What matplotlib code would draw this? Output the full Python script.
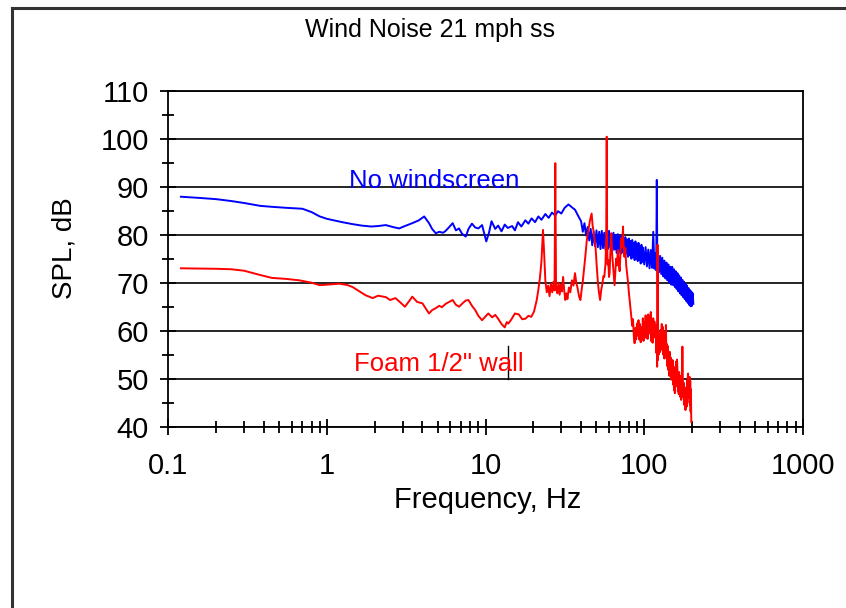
import matplotlib
matplotlib.use("Agg")
import matplotlib.pyplot as plt
from matplotlib.lines import Line2D
from matplotlib.ticker import LogLocator, MultipleLocator, FixedFormatter, FixedLocator

plt.rcParams['font.family'] = ['Liberation Sans', 'DejaVu Sans']

# spectrum without windscreen (Hz, dB)
bare_freq = [
    0.12, 0.15, 0.2, 0.25, 0.3, 0.38, 0.45, 0.55, 0.7, 0.8, 0.9, 1.0, 1.1, 1.25,
    1.45, 1.65, 1.9, 2.1, 2.35, 2.6, 2.85, 3.1, 3.45, 3.8, 4.1, 4.4, 4.6, 4.85,
    5.1, 5.4, 5.6, 5.9, 6.2, 6.5, 6.8, 7.1, 7.5, 7.8, 8.2, 8.6, 9.0, 9.5, 10.1,
    10.5, 10.9, 11.5, 12.0, 12.6, 13.2, 13.8, 14.7, 15.3, 16.0, 16.8, 17.8, 18.6,
    19.5, 20.5, 21.5, 22.5, 23.8, 25.0, 26.2, 27.5, 28.6, 30.0, 31.5, 33.3, 35.0,
    36.6, 38.5,
    40, 41, 42, 43, 44, 45, 46, 47, 48, 49, 50, 51, 52, 53, 54, 55, 56, 57, 58,
    59, 60, 61, 62, 63, 64, 65, 66, 67, 68, 69, 70, 71, 72, 73, 74, 75, 76, 77,
    78, 79, 80, 81, 82, 83, 84, 85, 86, 87, 88, 89, 90, 91, 92, 93, 94, 95, 96,
    97, 98, 100, 102, 104, 106, 108, 110, 112, 114, 116, 118, 119, 120, 121, 122,
    124, 126, 128, 130, 132, 134, 136, 138, 140, 142, 144, 146, 148, 150, 152,
    154, 156, 158, 160, 162, 164, 166, 168, 170, 172, 174, 176, 178, 180, 182,
    184, 186, 188, 190, 192, 194, 196, 198, 200, 202, 204,
]
bare_spl = [
    87.9, 87.7, 87.4, 87.0, 86.6, 86.0, 85.8, 85.6, 85.4, 84.7, 83.8, 83.3, 83.0,
    82.6, 82.2, 81.9, 81.7, 81.8, 82.0, 81.6, 81.3, 81.8, 82.4, 83.0, 83.8, 82.4,
    81.2, 80.3, 80.6, 80.4, 80.8, 81.6, 82.4, 80.9, 81.3, 80.2, 79.6, 81.2, 82.3,
    81.5, 81.3, 82.0, 78.6, 80.4, 82.8, 81.2, 81.9, 80.7, 82.1, 81.4, 81.8, 80.9,
    82.6, 81.7, 83.0, 82.3, 83.4, 82.6, 83.8, 83.1, 84.3, 83.5, 84.6, 84.0, 84.9,
    84.4, 85.6, 86.3, 85.7, 85.2, 83.8,
    82.8, 80.6, 82.4, 79.8, 81.6, 78.8, 81.2, 77.8, 80.6, 77.6, 80.9, 77.4, 80.6,
    77.0, 80.8, 77.2, 80.4, 76.9, 80.7, 77.0, 80.8, 77.3, 80.2, 76.6, 80.4, 76.9,
    79.9, 76.2, 80.1, 76.6, 79.6, 76.0, 79.9, 76.3, 79.2, 75.7, 79.5, 76.0, 79.0,
    75.4, 79.2, 75.7, 78.7, 75.0, 78.9, 75.3, 78.3, 74.7, 78.6, 75.0, 78.1, 74.5,
    78.3, 74.7, 77.6, 74.0, 77.9, 74.3, 77.3, 73.8, 77.4, 73.4, 76.9, 73.0, 76.8,
    73.1, 80.6, 72.9, 76.2, 72.6, 91.4, 72.7, 76.0, 72.2, 75.6, 71.8, 75.2, 71.3,
    74.6, 70.9, 74.2, 70.5, 73.8, 70.0, 73.3, 69.6, 73.3, 69.5, 72.8, 69.1, 72.4,
    68.7, 72.0, 68.2, 71.5, 67.8, 71.1, 67.4, 70.6, 67.0, 70.2, 66.6, 69.8, 66.2,
    69.4, 65.8, 68.9, 65.4, 68.5, 65.1, 68.2, 65.2, 67.8, 65.6,
]

# spectrum with 1/2" foam wall (Hz, dB)
foam_freq = [
    0.12, 0.2, 0.25, 0.3, 0.38, 0.45, 0.55, 0.67, 0.8, 0.9, 1.0, 1.2, 1.35, 1.45,
    1.6, 1.75, 1.94, 2.1, 2.35, 2.5, 2.7, 2.9, 3.1, 3.3, 3.45, 3.7, 4.0, 4.2, 4.4,
    4.6, 4.85, 5.1, 5.3, 5.6, 5.9, 6.2, 6.5, 6.8, 7.2, 7.5, 7.8, 8.2, 8.6, 9.0,
    9.5, 10.0, 10.4, 11.0, 11.5, 12.0, 12.6, 13.2, 13.6, 13.9, 14.5, 15.3, 16.2,
    17.0, 17.8, 18.6, 19.4, 20.2, 21.0, 21.5, 22.0, 22.5, 23.0, 23.4, 23.8, 24.3,
    24.8, 25.3, 25.8, 26.3, 26.8, 27.2, 27.5, 27.8, 28.3, 28.8, 29.3, 29.8, 30.3,
    30.8, 31.3, 31.8, 32.3, 32.8, 33.5, 34.2, 35.0, 35.8, 36.6, 37.3, 38.0, 38.8,
    39.6, 40.3, 41.0, 41.8, 42.5, 43.5, 44.5, 45.5, 46.6, 47.3, 48.0, 48.6, 49.3,
    50.2, 51.0, 51.8, 52.7, 53.6, 54.5, 55.3, 56.0, 56.6, 57.0, 57.6, 58.0, 58.4,
    58.8, 59.3, 60.0, 60.5, 61.2, 62.0, 62.7, 63.5, 64.2, 65.0, 65.8, 66.5, 67.3,
    68.2, 69.0, 70.0, 70.8, 71.5, 72.5, 73.5,
    74, 75, 76, 77, 78, 79, 80, 81, 82, 83, 84, 85, 86, 87, 88, 89, 90, 91, 92,
    93, 94, 95, 96, 97, 98, 99, 100, 101, 102, 103, 104, 105, 106, 107, 108, 109,
    110, 111, 112, 113, 114, 115, 116, 117, 118, 119, 120, 120.6, 121.3, 122,
    123, 124, 125, 126, 127, 128, 129, 130, 131, 132, 133, 134, 135, 136, 137,
    138, 139, 140, 141, 142, 143, 144, 145, 146, 147, 148, 149, 150, 151, 152,
    153, 154, 155, 156, 157, 158, 159, 160, 161, 162, 163, 164, 165, 166, 167,
    168, 169, 170, 171, 172, 173, 174, 175, 176, 177, 178, 179, 180, 181, 182,
    183, 184, 185, 186, 187, 188, 189, 190, 191, 192, 193, 194, 195, 196, 197,
    198,
]
foam_spl = [
    73.0, 72.9, 72.8, 72.5, 71.6, 71.0, 70.8, 70.5, 70.0, 69.5, 69.6, 69.8, 69.5,
    69.1, 68.2, 67.4, 66.8, 67.3, 67.0, 66.4, 66.8, 65.9, 65.0, 66.2, 67.1, 66.0,
    65.7, 64.6, 63.6, 64.3, 64.7, 65.2, 64.9, 65.6, 66.0, 66.4, 65.4, 65.0, 65.8,
    66.3, 66.4, 65.2, 64.3, 63.1, 62.2, 63.0, 63.6, 62.8, 63.3, 62.5, 61.4, 60.7,
    61.8, 61.5, 62.3, 63.6, 63.4, 62.4, 62.5, 63.1, 62.9, 64.0, 66.4, 68.5, 71.0,
    74.5, 81.0, 76.0, 70.5, 68.0, 69.4, 67.2, 69.8, 68.0, 70.2, 68.4, 94.9, 69.0,
    67.8, 70.0, 67.5, 69.6, 68.2, 71.2, 68.4, 66.4, 67.8, 66.6, 69.0, 68.0, 70.5,
    69.4, 72.0, 70.0, 68.9, 67.2, 66.4, 68.5, 70.3, 73.0, 75.4, 79.0, 81.0, 83.0,
    84.4, 81.8, 80.6, 78.8, 77.5, 73.4, 70.2, 68.0, 66.4, 68.6, 69.8, 71.4, 71.2,
    72.8, 74.0, 80.0, 100.4, 78.0, 73.8, 74.7, 71.2, 72.0, 76.6, 80.3, 76.2, 73.8,
    71.6, 69.5, 72.4, 75.0, 73.6, 76.8, 74.0, 72.4, 76.0, 79.2, 77.4, 81.7,
    78.0, 75.4, 77.2, 73.6, 71.8, 70.2, 68.0, 66.3, 64.5, 62.8, 61.0, 62.4, 58.8,
    57.4, 60.6, 58.2, 61.5, 59.0, 62.2, 58.2, 61.4, 57.6, 60.8, 58.4, 62.6, 57.9,
    61.8, 59.0, 63.2, 58.5, 62.2, 58.3, 63.4, 59.6, 63.0, 59.4, 63.9, 57.8, 62.0,
    57.5, 62.6, 58.8, 61.9, 58.6, 61.2, 55.4, 60.5, 52.5, 77.9, 53.9, 58.0, 55.1,
    59.4, 55.6, 60.2, 56.1, 61.4, 57.3, 60.8, 55.0, 59.6, 54.2, 59.8, 56.0, 61.2,
    54.4, 57.2, 52.6, 56.8, 51.8, 55.2, 50.6, 55.6, 51.2, 54.4, 49.8, 53.6, 50.4,
    53.9, 48.8, 52.6, 47.6, 51.4, 47.0, 52.2, 48.4, 53.6, 49.2, 54.0, 51.8, 47.4,
    50.6, 46.8, 51.4, 47.6, 50.6, 46.2, 49.4, 45.6, 49.8, 47.0, 56.7, 48.6, 46.2,
    49.2, 44.8, 47.6, 44.4, 48.0, 43.5, 47.6, 48.2, 44.2, 49.6, 45.0, 50.2, 51.1,
    46.0, 49.8, 47.2, 50.4, 44.6, 49.6, 43.2, 47.8, 41.0,
]

# short vertical cursor line left in the plot area
cursor_freq = 13.8
cursor_spl = [50.0, 56.9]

x_ticks = [0.1, 1, 10, 100, 1000]
x_tick_labels = ['0.1', '1', '10', '100', '1000']
y_ticks = [40, 50, 60, 70, 80, 90, 100, 110]

fig = plt.figure(figsize=(8.46, 6.08), dpi=100)
ax = fig.add_axes([0.199, 0.298, 0.75, 0.553])

ax.plot(bare_freq, bare_spl, color='#0000ff', lw=1.4, zorder=3)
ax.plot(foam_freq, foam_spl, color='#ff0000', lw=1.4, zorder=4)
ax.plot([cursor_freq, cursor_freq], cursor_spl, color='black', lw=1.0, zorder=5)

ax.set_xscale('log')
ax.set_xlim(0.1, 1000)
ax.set_ylim(40, 110)

ax.xaxis.set_major_locator(FixedLocator(x_ticks))
ax.xaxis.set_major_formatter(FixedFormatter(x_tick_labels))
ax.xaxis.set_minor_locator(LogLocator(base=10, subs=range(2, 10), numticks=20))
ax.xaxis.set_minor_formatter(plt.NullFormatter())
ax.set_yticks(y_ticks)
ax.yaxis.set_minor_locator(MultipleLocator(5))

ax.tick_params(which='both', direction='inout', color='black', width=1.3,
               top=False, right=False, labelsize=21)
ax.tick_params(which='major', length=12)
ax.tick_params(which='minor', length=9)
ax.tick_params(axis='x', pad=12)
ax.tick_params(axis='y', pad=8)

ax.grid(axis='y', which='major', color='black', lw=1.2)
for side in ax.spines.values():
    side.set_color('black')
    side.set_linewidth(1.3)

ax.set_xlabel('Frequency, Hz', fontsize=21)
ax.set_ylabel('SPL, dB', fontsize=20)
ax.xaxis.set_label_coords(0.503, -0.218)
ax.xaxis.label.set_va('center')
ax.yaxis.set_label_coords(-0.163, 0.53)
ax.yaxis.label.set_va('center')

ax.text(0.1 * 10 ** 1.14, 89.8, 'No windscreen', color='#0000ff', fontsize=18.5,
        ha='left', va='baseline', zorder=6)
ax.text(0.1 * 10 ** 1.172, 51.6, 'Foam 1/2" wall', color='#ff0000', fontsize=18.5,
        ha='left', va='baseline', zorder=6)

fig.text(0.508, 0.951, 'Wind Noise 21 mph ss', ha='center', va='center', fontsize=18)

# outer frame around the chart area
fig.add_artist(Line2D([0.014, 0.014], [0.0, 0.987], transform=fig.transFigure,
                      color='#333333', lw=2.2))
fig.add_artist(Line2D([0.014, 1.0], [0.987, 0.987], transform=fig.transFigure,
                      color='#333333', lw=2.2))

fig.savefig('out.png', dpi=100)
